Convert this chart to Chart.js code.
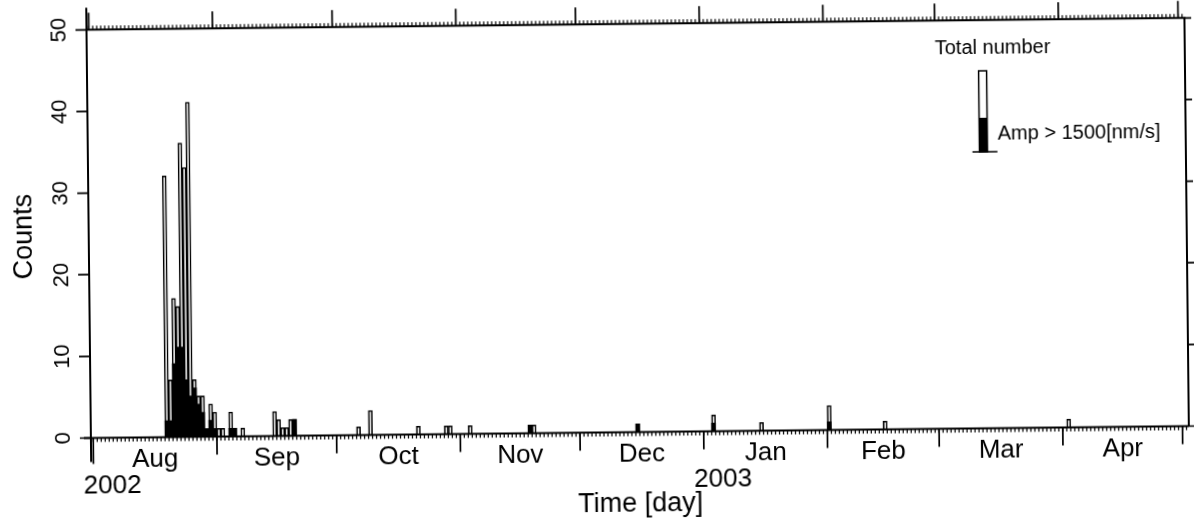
<!DOCTYPE html>
<html><head><meta charset="utf-8">
<script src="https://cdn.jsdelivr.net/npm/chart.js@4.4.0/dist/chart.umd.min.js"></script>
<style>
html,body{margin:0;padding:0;background:#fff;overflow:hidden}
#wrap{width:1194px;height:519px;transform:rotate(-0.62deg);transform-origin:597px 259.5px;background:#fff}
canvas{display:block}
</style></head><body>
<div id="wrap"><canvas id="c" width="1194" height="519"></canvas></div>
<script>
// Day index counted from 1 Aug 2002 (0 = Aug 1)
const dayIndex    = [18,19,20,21,22,23,24,25,26,27,28,29,30,31,32,34,35,37,45,46,47,48,49,50,66,69,81,88,89,94,109,110,136,155,167,184,198,244];
const totalCounts = [32, 7,17,16,36,33,41, 7, 5, 5, 1, 4, 3, 1, 1, 3, 1, 1, 3, 2, 1, 1, 2, 2, 1, 3, 1, 1, 1, 1,  1,  1,  1,  2,  1,  3,  1,  1];
const ampCounts   = [ 2, 2, 9,11,11, 7, 5, 6, 4, 3, 1, 2, 1, 0, 0, 1, 1, 0, 0, 0, 0, 0, 0, 2, 0, 0, 0, 0, 0, 0,  1,  0,  1,  1,  0,  1,  0,  0];
const monthLabels = ['Aug','Sep','Oct','Nov','Dec','Jan','Feb','Mar','Apr'];
const monthStartDays = [0,31,61,92,122,153,184,212,243,273];
const yearLabels = ['2002','2003'];
const yearStartDays = [0,153];
const yTickValues = [0,10,20,30,40,50];
const seriesNames = ['Total number','Amp > 1500[nm/s]'];
const axisTitleX = 'Time [day]';
const axisTitleY = 'Counts';

const FONT = '"Liberation Sans", Arial, Helvetica, sans-serif';

const totalData = dayIndex.map((d,i)=>({x:d+0.5, y:totalCounts[i]}));
const ampData   = dayIndex.map((d,i)=>({x:d+0.5, y:ampCounts[i]}));

const framePlugin = {
  id:'frame',
  afterDatasetsDraw(chart){
    const {ctx, chartArea:a, scales:{x,y}} = chart;
    const L=a.left, R=a.right, T=a.top, B=a.bottom;
    ctx.save();
    ctx.strokeStyle='#000';
    ctx.fillStyle='#000';
    ctx.lineCap='butt';
    // main frame
    ctx.lineWidth=2;
    ctx.beginPath();
    ctx.moveTo(L, T-22); ctx.lineTo(L, B+24);
    ctx.moveTo(L-7, B); ctx.lineTo(R, B);
    ctx.moveTo(L, T); ctx.lineTo(R+1, T);
    ctx.moveTo(R, T); ctx.lineTo(R, B);
    ctx.stroke();
    // daily ticks
    ctx.lineWidth=1.2;
    ctx.beginPath();
    for(let d=Math.ceil(x.min); d<=x.max; d++){
      const px = x.getPixelForValue(d);
      ctx.moveTo(px,B); ctx.lineTo(px,B+4);
      ctx.moveTo(px,T); ctx.lineTo(px,T-4);
    }
    ctx.stroke();
    // month ticks
    ctx.lineWidth=1.7;
    ctx.beginPath();
    monthStartDays.forEach((d,i)=>{
      const px = x.getPixelForValue(d);
      ctx.moveTo(px,B); ctx.lineTo(px,B+(i===0?26:18));
      ctx.moveTo(px,T); ctx.lineTo(px,T-17);
    });
    // y ticks
    yTickValues.forEach(v=>{
      const py = y.getPixelForValue(v);
      ctx.moveTo(L-11,py); ctx.lineTo(L,py);
      ctx.moveTo(R,py); ctx.lineTo(R+7,py);
    });
    ctx.stroke();

    // y tick labels (rotated)
    ctx.font = '22px '+FONT;
    ctx.textAlign='center';
    ctx.textBaseline='alphabetic';
    yTickValues.forEach(v=>{
      const py = y.getPixelForValue(v);
      ctx.save(); ctx.translate(L-21, py); ctx.rotate(-Math.PI/2);
      ctx.fillText(String(v),0,0); ctx.restore();
    });
    // y title
    ctx.font = '27px '+FONT;
    ctx.save(); ctx.translate(32, (T+B)/2+2); ctx.rotate(-Math.PI/2);
    ctx.fillText(axisTitleY,0,0); ctx.restore();

    // month labels
    ctx.font = '26px '+FONT;
    ctx.textAlign='center';
    monthLabels.forEach((m,i)=>{
      const px = (x.getPixelForValue(monthStartDays[i])+x.getPixelForValue(monthStartDays[i+1]))/2;
      ctx.fillText(m, px, B+29);
    });
    // year labels
    ctx.textAlign='left';
    yearLabels.forEach((t,i)=>{
      ctx.fillText(t, x.getPixelForValue(yearStartDays[i])-10, B+55);
    });
    // x title
    ctx.font = '27px '+FONT;
    ctx.textAlign='center';
    ctx.fillText(axisTitleX, (L+R)/2, B+79);

    // legend
    const lx = 980.6, lw = 8;
    const lTop = 75, lMid = 122, lBot = 156;
    ctx.font = '20px '+FONT;
    ctx.textAlign='left';
    ctx.fillText(seriesNames[0], 937, 58);
    ctx.fillStyle='#fff';
    ctx.fillRect(lx, lTop, lw, lMid-lTop);
    ctx.fillStyle='#000';
    ctx.fillRect(lx, lMid, lw, lBot-lMid);
    ctx.lineWidth=1.5;
    ctx.strokeRect(lx, lTop, lw, lBot-lTop);
    ctx.beginPath();
    ctx.moveTo(lx-7, lBot); ctx.lineTo(lx+lw+10, lBot);
    ctx.stroke();
    ctx.fillText(seriesNames[1], 999, 144);
    ctx.restore();
  }
};

new Chart(document.getElementById('c'), {
  type:'bar',
  data:{
    datasets:[
      {label:seriesNames[1], data:ampData, backgroundColor:'#000', borderColor:'#000', borderWidth:0, grouped:false, order:0,
       barPercentage:1, categoryPercentage:1},
      {label:seriesNames[0], data:totalData, backgroundColor:'#fff', borderColor:'#000', borderWidth:1.6, borderSkipped:'start', grouped:false, order:1,
       barPercentage:1, categoryPercentage:1}
    ]
  },
  options:{
    responsive:false,
    animation:false,
    events:[],
    layout:{padding:{left:89, right:7, top:24.3, bottom:86.5}},
    plugins:{legend:{display:false}, tooltip:{enabled:false}},
    scales:{
      x:{type:'linear', display:false, min:-0.58, max:274.6, offset:false},
      y:{type:'linear', display:false, min:0, max:50}
    }
  },
  plugins:[framePlugin]
});
</script>
</body></html>
